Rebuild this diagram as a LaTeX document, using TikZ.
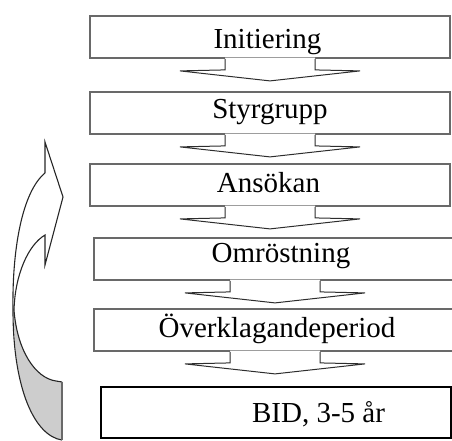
\documentclass[tikz,border=0pt]{standalone}
\usepackage{fontspec}
\setmainfont{Liberation Serif}
\usetikzlibrary{calc}
\definecolor{boxgray}{RGB}{105,105,105}
\definecolor{arrowink}{RGB}{45,45,45}
\definecolor{backgray}{RGB}{205,205,205}
\begin{document}
\begin{tikzpicture}[x=1pt,y=-1pt,
  stage/.style={draw=boxgray, line width=1.8pt, inner sep=0pt, minimum height=42pt},
  finalstage/.style={draw=black, line width=1.2pt, inner sep=0pt},
  label/.style={anchor=base, inner sep=0pt, font=\fontsize{29}{34}\selectfont},
  arrowline/.style={draw=arrowink, line width=1pt, line join=miter},
  curveline/.style={draw=black!85, line width=1.1pt},
  tailline/.style={draw=boxgray, line width=1.6pt}]
\useasboundingbox (0,0) rectangle (452,440);
\clip (0,0) rectangle (452,440);

% process stages
\node[stage, minimum width=360pt] (b1) at (270,37) {};
\node[stage, minimum width=360pt] (b2) at (270,113) {};
\node[stage, minimum width=360pt] (b3) at (270,185) {};
\node[stage, minimum width=362pt] (b4) at (275,259) {};
\node[stage, minimum width=362pt] (b5) at (275,330) {};
\node[finalstage, minimum width=350pt, minimum height=51pt] (b6) at (276,412.5) {};

% stage titles
\node[label] (t1) at (267.5,48) {Initiering};
\node[label] (t2) at (270,118) {Styrgrupp};
\node[label] (t3) at (268.5,192) {Ansökan};
\node[label] (t4) at (281,262) {Omröstning};
\node[label] (t5) at (277,337) {Överklagandeperiod};
\node[label] (t6) at (318.5,422) {BID, 3-5 år};

% notched block arrows hanging below each stage
\foreach \n in {b1,b2,b3,b4,b5} {
  \fill[white] ($(\n.south)+(-45,-1.3)$) -- ($(\n.south)+(-45,11)$) -- ($(\n.south)+(-90,12)$)
    -- ($(\n.south)+(0,22)$) -- ($(\n.south)+(90,12)$) -- ($(\n.south)+(45,11)$)
    -- ($(\n.south)+(45,-1.3)$) -- cycle;
  \draw[arrowline] ($(\n.south)+(-45,0)$) -- ($(\n.south)+(-45,11)$) -- ($(\n.south)+(-90,12)$)
    -- ($(\n.south)+(0,22)$) -- ($(\n.south)+(90,12)$) -- ($(\n.south)+(45,11)$)
    -- ($(\n.south)+(45,0)$);
}

% curved return arrow on the left, shaded underside at the tail
\fill[backgray] (14,310) .. controls (13,390) and (35,436) .. (62,440) -- (62,382) -- (56,381)
  .. controls (35,378) and (17,350) .. (14,310) -- cycle;
\draw[curveline] (45,173) -- (45,142) -- (63,197) -- (45,265) -- (45,235)
  .. controls (28,245) and (15,275) .. (14,310)
  .. controls (17,350) and (35,378) .. (56,381) -- (62,382);
\draw[curveline] (45,173) .. controls (22,192) and (12,250) .. (13,310)
  .. controls (13,390) and (35,436) .. (62,440);
\draw[tailline] (62,382) -- (62,440);
\end{tikzpicture}
\end{document}
